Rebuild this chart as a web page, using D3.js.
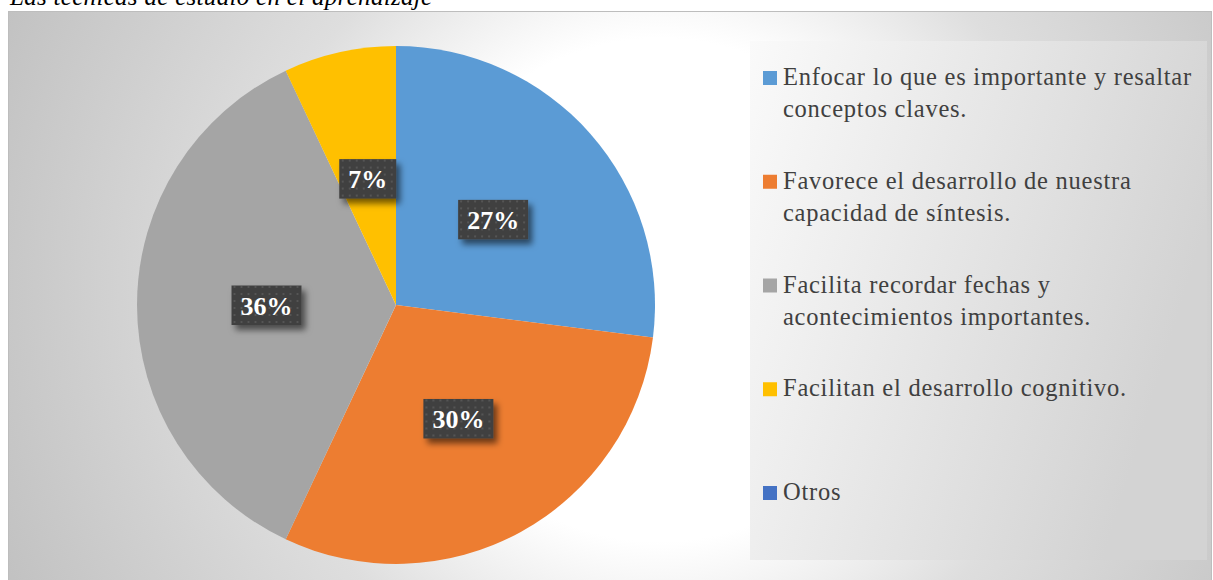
<!DOCTYPE html>
<html>
<head>
<meta charset="utf-8">
<script src="https://cdn.jsdelivr.net/npm/d3@7"></script>
<style>
  html, body { margin: 0; padding: 0; background: #fff; }
  svg { display: block; }
</style>
</head>
<body>
<div id="chart"></div>
<script>
// data
const categories = [
    "Enfocar lo que es importante y resaltar conceptos claves.",
    "Favorece el desarrollo de nuestra capacidad de síntesis.",
    "Facilita recordar fechas y acontecimientos importantes.",
    "Facilitan el desarrollo cognitivo.",
    "Otros"
];
const values = [27, 30, 36, 7, 0];
const colors = ["#5B9BD5", "#ED7D31", "#A5A5A5", "#FFC000", "#4472C4"];
const title = "Las técnicas de estudio en el aprendizaje";

const width = 1213;
const height = 580;
const serif = "'Liberation Serif', 'Times New Roman', serif";

const svg = d3.select("#chart")
    .append("svg")
    .attr("width", width)
    .attr("height", height);

const defs = svg.append("defs");

// chart area background: white centre fading to grey at the corners
const bg = defs.append("radialGradient")
    .attr("id", "bgGrad")
    .attr("gradientUnits", "userSpaceOnUse")
    .attr("cx", 660)
    .attr("cy", 290)
    .attr("r", 740);
bg.append("stop").attr("offset", 0).attr("stop-color", "#ffffff");
bg.append("stop").attr("offset", 0.34).attr("stop-color", "#ffffff");
bg.append("stop").attr("offset", 0.56).attr("stop-color", "#dedede");
bg.append("stop").attr("offset", 1).attr("stop-color", "#bfbfbf");

const lg = defs.append("linearGradient")
    .attr("id", "legendGrad")
    .attr("x1", 0).attr("y1", 0)
    .attr("x2", 1).attr("y2", 0.35);
lg.append("stop").attr("offset", 0).attr("stop-color", "#fafafa");
lg.append("stop").attr("offset", 1).attr("stop-color", "#d3d3d3");

// dotted texture for the data labels
const pat = defs.append("pattern")
    .attr("id", "dots")
    .attr("patternUnits", "userSpaceOnUse")
    .attr("width", 7)
    .attr("height", 7);
pat.append("rect").attr("width", 7).attr("height", 7).attr("fill", "#404040");
pat.append("rect").attr("x", 2).attr("y", 2).attr("width", 2).attr("height", 2).attr("fill", "#555555");

const shadow = defs.append("filter")
    .attr("id", "shadow")
    .attr("x", "-30%").attr("y", "-30%")
    .attr("width", "170%").attr("height", "180%");
shadow.append("feDropShadow")
    .attr("dx", 4)
    .attr("dy", 5)
    .attr("stdDeviation", 3)
    .attr("flood-color", "#000")
    .attr("flood-opacity", 0.55);

// title (cut off by the top edge in the reference)
svg.append("text")
    .attr("x", 10)
    .attr("y", 5)
    .style("font-family", serif)
    .style("font-style", "italic")
    .style("font-size", "25px")
    .style("letter-spacing", "0.3px")
    .attr("fill", "#000")
    .text(title);

// chart area
svg.append("rect")
    .attr("x", 8.5)
    .attr("y", 11.5)
    .attr("width", 1203)
    .attr("height", 575)
    .attr("fill", "url(#bgGrad)")
    .attr("stroke", "#bdbdbd")
    .attr("stroke-width", 1);

// pie
const cx = 396;
const cy = 305;
const radius = 259;

const pie = d3.pie()
    .sort(null)
    .value(d => d.value);

const arc = d3.arc()
    .innerRadius(0)
    .outerRadius(radius);

const pieData = pie(values.map((v, i) => ({ value: v, name: categories[i], color: colors[i] })));

const g = svg.append("g")
    .attr("transform", `translate(${cx},${cy})`);

g.selectAll(".slice")
    .data(pieData.filter(d => d.value > 0))
    .join("path")
        .attr("class", "slice")
        .attr("d", arc)
        .attr("fill", d => d.data.color);

// data labels
const fmt = d3.format(".0%");
const total = d3.sum(values);

const labels = g.selectAll(".lbl")
    .data(pieData.filter(d => d.value > 0))
    .join("g")
        .attr("class", "lbl")
        .attr("transform", d => `translate(${arc.centroid(d)})`);

labels.append("rect").attr("class", "lbl-box");

labels.append("text")
    .attr("text-anchor", "middle")
    .attr("y", 9.5)
    .style("font-family", serif)
    .style("font-weight", "bold")
    .style("font-size", "26px")
    .attr("fill", "#fff")
    .text(d => fmt(d.value / total));

labels.each(function() {
    const gl = d3.select(this);
    const w = gl.select("text").node().getComputedTextLength() + 18;
    gl.select("rect")
        .attr("x", -w / 2)
        .attr("y", -19.5)
        .attr("width", w)
        .attr("height", 39.5)
        .attr("fill", "url(#dots)")
        .attr("filter", "url(#shadow)");
});

// legend
const legendBox = { x: 750, y: 41, w: 457, h: 519 };

svg.append("rect")
    .attr("x", legendBox.x)
    .attr("y", legendBox.y)
    .attr("width", legendBox.w)
    .attr("height", legendBox.h)
    .attr("fill", "url(#legendGrad)");

const legendY = d3.scaleLinear()
    .domain([0, categories.length - 1])
    .range([85, 500]);

const legend = svg.selectAll(".legend-item")
    .data(categories)
    .join("g")
        .attr("class", "legend-item")
        .attr("transform", (d, i) => `translate(763,${legendY(i)})`);

legend.append("rect")
    .attr("x", 0)
    .attr("y", -14)
    .attr("width", 14)
    .attr("height", 14)
    .attr("fill", (d, i) => colors[i]);

const legendText = legend.append("text")
    .attr("x", 20)
    .attr("y", 0)
    .style("font-family", serif)
    .style("font-size", "24.5px")
    .style("letter-spacing", "0.75px")
    .attr("fill", "#404040");

// wrap each legend entry to the box width
const maxWidth = 426;
legendText.each(function(d) {
    const t = d3.select(this);
    const words = d.split(" ");
    let line = [];
    let tspan = t.append("tspan").attr("x", 20).attr("dy", 0);
    words.forEach(w => {
        line.push(w);
        tspan.text(line.join(" "));
        if (tspan.node().getComputedTextLength() > maxWidth && line.length > 1) {
            line.pop();
            tspan.text(line.join(" "));
            line = [w];
            tspan = t.append("tspan").attr("x", 20).attr("dy", 32).text(w);
        }
    });
});
</script>
</body>
</html>
